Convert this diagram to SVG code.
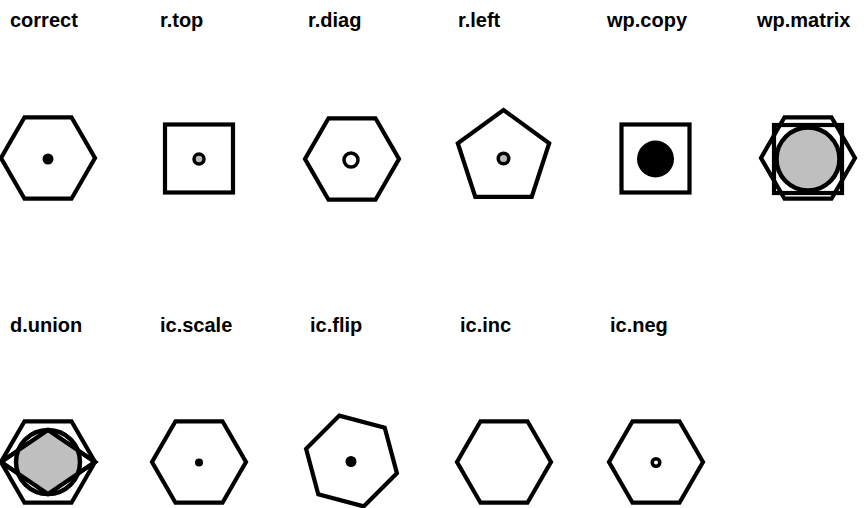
<svg xmlns="http://www.w3.org/2000/svg" width="864" height="508" viewBox="0 0 864 508">
<style>
.lbl{font-family:"Liberation Sans",Arial,sans-serif;font-weight:bold;font-size:20px;fill:#000}
.sh{fill:none;stroke:#000;stroke-width:4.2;stroke-linejoin:miter}
.ring{stroke:#000;stroke-width:3.5}
</style>
<defs>
<polygon id="hex" points="47,0 23.5,40.7 -23.5,40.7 -47,0 -23.5,-40.7 23.5,-40.7"/>
<clipPath id="rh"><polygon points="1,462 48,430 95,462 48,494"/></clipPath>
</defs>
<rect width="864" height="508" fill="#fff"/>
<g id="labels">
<text class="lbl" x="10" y="27">correct</text>
<text class="lbl" x="160" y="27">r.top</text>
<text class="lbl" x="308" y="27">r.diag</text>
<text class="lbl" x="458" y="27">r.left</text>
<text class="lbl" x="607" y="27">wp.copy</text>
<text class="lbl" x="757" y="27">wp.matrix</text>
<text class="lbl" x="10" y="332">d.union</text>
<text class="lbl" x="160" y="332">ic.scale</text>
<text class="lbl" x="310" y="332">ic.flip</text>
<text class="lbl" x="460" y="332">ic.inc</text>
<text class="lbl" x="610" y="332">ic.neg</text>
</g>
<g id="correct">
<use href="#hex" class="sh" x="48" y="158"/>
<circle cx="48" cy="159" r="5.5" fill="#000"/>
</g>
<g id="r-top">
<rect class="sh" x="165" y="124.5" width="68" height="68"/>
<circle class="ring" cx="199" cy="159" r="5" fill="#bbb"/>
</g>
<g id="r-diag">
<use href="#hex" class="sh" x="352" y="159"/>
<circle class="ring" cx="351" cy="160" r="7" fill="#fff"/>
</g>
<g id="r-left">
<polygon class="sh" points="503.5,110 549.2,143.2 531.7,196.8 475.3,196.8 457.8,143.2"/>
<circle class="ring" cx="503.5" cy="158.5" r="5.3" fill="#bbb"/>
</g>
<g id="wp-copy">
<rect class="sh" x="621.5" y="124.5" width="68" height="68"/>
<circle cx="655.5" cy="159" r="18.5" fill="#000"/>
</g>
<g id="wp-matrix">
<use href="#hex" class="sh" x="808" y="158"/>
<rect class="sh" x="774" y="125" width="68" height="68"/>
<circle cx="808" cy="159" r="31.5" fill="#bfbfbf" stroke="#000" stroke-width="4.5"/>
</g>
<g id="d-union">
<use href="#hex" class="sh" x="48" y="462"/>
<polygon points="1,462 48,430 95,462 48,494" fill="#fff" stroke="#000" stroke-width="4"/>
<circle cx="48" cy="462" r="32" fill="#bfbfbf" clip-path="url(#rh)"/>
<polygon class="sh" points="1,462 48,430 95,462 48,494" stroke-width="2"/>
<circle cx="48" cy="462" r="32" fill="none" stroke="#000" stroke-width="4.5"/>
</g>
<g id="ic-scale">
<use href="#hex" class="sh" x="199" y="462"/>
<circle cx="199" cy="462.5" r="4" fill="#000"/>
</g>
<g id="ic-flip">
<use href="#hex" class="sh" transform="translate(351.5,461) rotate(15)"/>
<circle cx="351" cy="461.5" r="5.5" fill="#000"/>
</g>
<g id="ic-inc">
<use href="#hex" class="sh" x="504" y="462"/>
</g>
<g id="ic-neg">
<use href="#hex" class="sh" x="656" y="462"/>
<circle class="ring" cx="656" cy="462.5" r="3.8" fill="#fff"/>
</g>
</svg>
